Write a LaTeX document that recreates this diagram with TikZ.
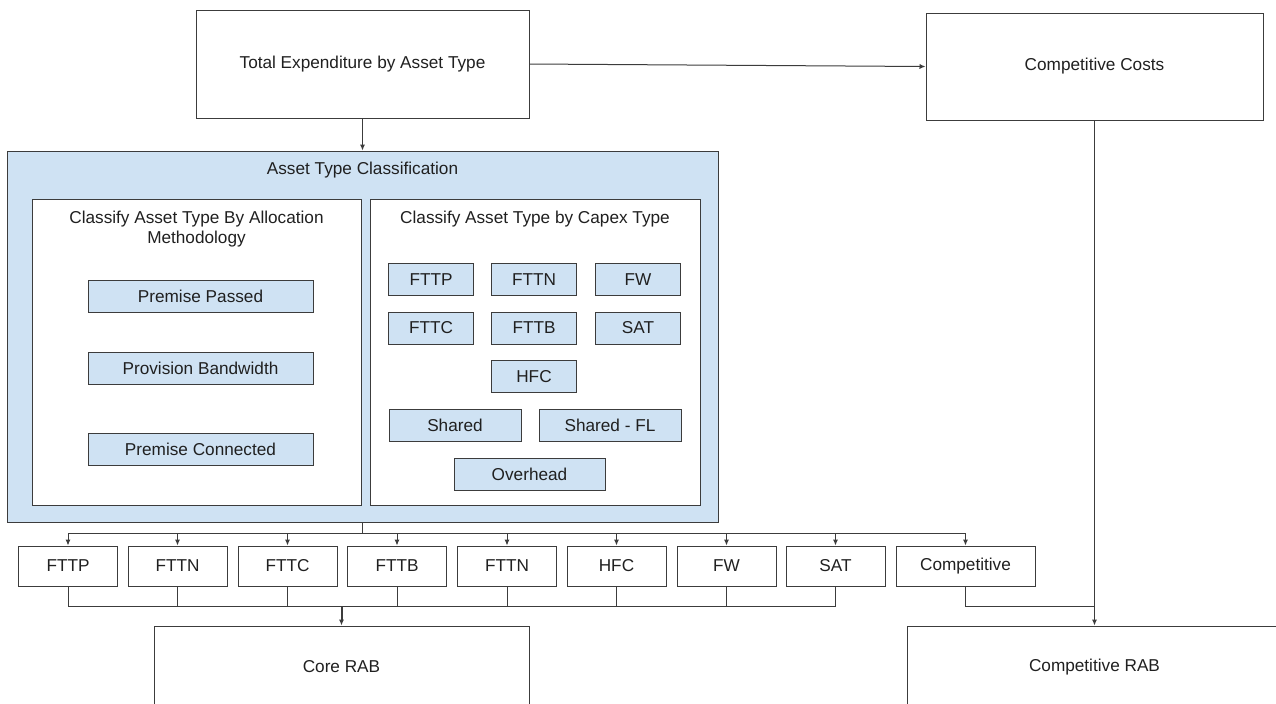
\documentclass[tikz,border=0pt]{standalone}
\usepackage{fontspec}
\setmainfont{Liberation Sans}
\usetikzlibrary{arrows.meta}
\definecolor{lb}{HTML}{CFE2F3}
\definecolor{ln}{HTML}{3C3C3C}
\definecolor{tx}{HTML}{202020}
\begin{document}
\begin{tikzpicture}[x=0.5pt,y=-0.5pt,
  every node/.style={font=\fontsize{8.6}{10}\selectfont, text=tx},
  sz/.style 2 args={minimum width=#1*0.5pt, minimum height=#2*0.5pt},
  box/.style={draw=ln, line width=0.5pt, inner sep=0pt, align=center, fill=white},
  bbox/.style={box, fill=lb},
  lbl/.style={inner sep=0pt, align=center},
  conn/.style={draw=ln, line width=0.5pt},
  arr/.style={conn, -{Latex[length=3pt,width=2.6pt]}}]
\useasboundingbox (0,0) rectangle (1276,703);
\clip (0,0) rectangle (1276,703);
\fill[white] (0,0) rectangle (1276,703);
% top
\node[box, sz={333}{108}] (total) at (362.5,64) {Total Expenditure by Asset Type};
\node[box, sz={337}{107}] (cc) at (1094.5,66.5) {Competitive Costs};
% classification
\node[bbox, sz={711}{371}] (blue) at (362.5,336.5) {};
\node[lbl] (atc) at (362.5,170) {Asset Type Classification};
\node[box, sz={329}{306}] (left) at (196.5,352) {};
\node[box, sz={330}{306}] (right) at (535,352) {};
\node[lbl] (ltitle) at (196.5,229) {Classify Asset Type By Allocation\\Methodology};
\node[lbl] (rtitle) at (535,219) {Classify Asset Type by Capex Type};
\node[bbox, sz={225}{32}] (pp) at (200.5,296) {Premise Passed};
\node[bbox, sz={225}{32}] (pb) at (200.5,368) {Provision Bandwidth};
\node[bbox, sz={225}{32}] (pc) at (200.5,449) {Premise Connected};
\node[bbox, sz={85}{32}] (c1) at (431,279.5) {FTTP};
\node[bbox, sz={85}{32}] (c2) at (534,279.5) {FTTN};
\node[bbox, sz={85}{32}] (c3) at (638,279.5) {FW};
\node[bbox, sz={85}{32}] (c4) at (431,328) {FTTC};
\node[bbox, sz={85}{32}] (c5) at (534,328) {FTTB};
\node[bbox, sz={85}{32}] (c6) at (638,328) {SAT};
\node[bbox, sz={85}{32}] (c7) at (534,376.5) {HFC};
\node[bbox, sz={132}{32}] (c8) at (455,425) {Shared};
\node[bbox, sz={142}{32}] (c9) at (610,425) {Shared - FL};
\node[bbox, sz={151}{32}] (c10) at (529.5,474) {Overhead};
% bottom row
\node[box, sz={99}{40}] (b1) at (68,566) {FTTP};
\node[box, sz={99}{40}] (b2) at (177.5,566) {FTTN};
\node[box, sz={99}{40}] (b3) at (287.5,566) {FTTC};
\node[box, sz={99}{40}] (b4) at (397,566) {FTTB};
\node[box, sz={99}{40}] (b5) at (507,566) {FTTN};
\node[box, sz={99}{40}] (b6) at (616.5,566) {HFC};
\node[box, sz={99}{40}] (b7) at (726.5,566) {FW};
\node[box, sz={99}{40}] (b8) at (835.5,566) {SAT};
\node[box, sz={139}{40}] (b9) at (965.5,566) {Competitive};
\node[box, sz={375}{82}] (core) at (341.5,667) {Core RAB};
\node[box, sz={374}{82}] (crab) at (1094.5,667) {Competitive RAB};
\coordinate (bus) at (0,533);
\coordinate (bus2) at (0,606);
% connectors
\draw[arr] (total.south) -- (blue.north);
\draw[arr] (total.east) -- (cc.west);
\draw[conn] (blue.south) -- (blue.south |- bus);
\draw[conn] (b1.north |- bus) -- (b9.north |- bus);
\foreach \b in {b1,b2,b3,b4,b5,b6,b7,b8,b9}{
  \draw[arr] (\b.north |- bus) -- (\b.north);
}
\foreach \b in {b1,b2,b3,b4,b5,b6,b7,b8}{
  \draw[conn] (\b.south) -- (\b.south |- bus2);
}
\draw[conn] (b1.south |- bus2) -- (b8.south |- bus2);
\draw[arr, line width=1pt] (core.north |- bus2) -- (core.north);
\draw[conn] (b9.south) -- (b9.south |- bus2) -- (crab.north |- bus2);
\draw[arr] (cc.south) -- (crab.north);
\end{tikzpicture}
\end{document}
